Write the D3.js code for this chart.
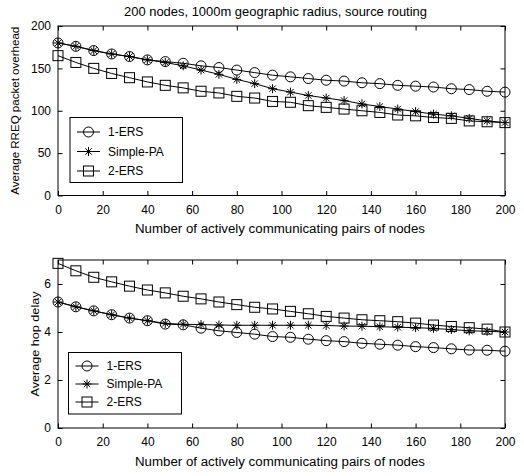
<!DOCTYPE html>
<html>
<head>
<meta charset="utf-8">
<script src="https://cdn.jsdelivr.net/npm/d3@7"></script>
<style>
  body { margin: 0; background: #fff; }
  text { font-family: "Liberation Sans", Arial, sans-serif; fill: #000; }
</style>
</head>
<body>
<svg id="chart" width="524" height="476"></svg>
<script>
// data
const pairs = d3.range(0, 201, 8); // 0, 8, ..., 200
const seriesNames = ["1-ERS", "Simple-PA", "2-ERS"];

const rreqOneErs = [180, 176, 171, 167, 164, 160, 158, 156, 153, 151, 148, 145, 142,
  140, 138, 136, 135, 133, 132, 130, 129, 128, 126, 125, 123, 122];
const rreqSimplePa = [180, 176, 171, 167, 164, 160, 157, 153, 148, 143, 137, 132, 126,
  122, 118, 115, 112, 108, 105, 102, 99, 96, 94, 91, 88, 86];
const rreqTwoErs = [165, 157, 150, 144, 139, 134, 130, 127, 123, 121, 117, 115, 111,
  110, 106, 104, 102, 100, 98, 95, 94, 92, 91, 88, 87, 86];

const hopOneErs = [5.25, 5.05, 4.88, 4.72, 4.58, 4.47, 4.33, 4.30, 4.16, 4.05, 3.98, 3.91, 3.81,
  3.78, 3.70, 3.64, 3.60, 3.53, 3.49, 3.45, 3.39, 3.35, 3.30, 3.25, 3.24, 3.20];
const hopSimplePa = [5.25, 5.05, 4.88, 4.72, 4.58, 4.47, 4.36, 4.32, 4.31, 4.29, 4.28, 4.28, 4.28,
  4.28, 4.28, 4.27, 4.25, 4.24, 4.22, 4.20, 4.18, 4.15, 4.10, 4.05, 4.03, 4.00];
const hopTwoErs = [6.86, 6.55, 6.28, 6.09, 5.91, 5.75, 5.63, 5.49, 5.38, 5.25, 5.14, 5.03, 4.96,
  4.86, 4.76, 4.65, 4.58, 4.51, 4.47, 4.43, 4.37, 4.29, 4.23, 4.18, 4.12, 4.00];

const xTicks = d3.range(0, 201, 20);
const rreqTicks = [0, 50, 100, 150, 200];
const hopTicks = [0, 2, 4, 6];

const svg = d3.select("#chart");
const tickLen = 4.5;

// draw one marker at (0,0) in group g
function drawMarker(g, name) {
  if (name === "1-ERS") {
    g.append("circle").attr("r", 5).attr("fill", "none").attr("stroke", "#000");
  } else if (name === "2-ERS") {
    g.append("rect").attr("x", -5).attr("y", -5).attr("width", 10).attr("height", 10)
      .attr("fill", "none").attr("stroke", "#000");
  } else {
    const s = 4.5, d = 3.2;
    g.append("path")
      .attr("d", `M${-s},0H${s}M0,${-s}V${s}M${-d},${-d}L${d},${d}M${-d},${d}L${d},${-d}`)
      .attr("stroke", "#000").attr("fill", "none");
  }
}

function drawPanel(opts) {
  const { left, right, top, bottom, yDomain, yTicks, series, yLabel, yLabelX, yLabelLen, legend } = opts;
  const x = d3.scaleLinear().domain([0, 200]).range([left, right]);
  const y = d3.scaleLinear().domain(yDomain).range([bottom, top]);
  const g = svg.append("g");

  // frame
  g.append("rect")
    .attr("x", left).attr("y", top)
    .attr("width", right - left).attr("height", bottom - top)
    .attr("fill", "none").attr("stroke", "#000").attr("stroke-width", 1);

  // axes with inward ticks on all four sides
  const ax = (axis, tr) => {
    const a = g.append("g").attr("transform", tr).call(axis);
    a.select(".domain").remove();
    a.selectAll("text").style("font-size", "12px").style("font-family", "Liberation Sans, Arial, sans-serif");
    return a;
  };
  ax(d3.axisBottom(x).tickValues(xTicks).tickSizeInner(-tickLen).tickSizeOuter(0).tickPadding(9.5),
    `translate(0,${bottom})`);
  ax(d3.axisTop(x).tickValues(xTicks).tickSizeInner(-tickLen).tickSizeOuter(0).tickFormat(""),
    `translate(0,${top})`);
  ax(d3.axisLeft(y).tickValues(yTicks).tickSizeInner(-tickLen).tickSizeOuter(0)
      .tickPadding(7).tickFormat(d3.format("d")),
    `translate(${left},0)`);
  ax(d3.axisRight(y).tickValues(yTicks).tickSizeInner(-tickLen).tickSizeOuter(0).tickFormat(""),
    `translate(${right},0)`);

  // x label
  g.append("text")
    .attr("x", 280).attr("y", bottom + 37.5)
    .attr("text-anchor", "middle").style("font-size", "12px")
    .attr("textLength", 290).attr("lengthAdjust", "spacingAndGlyphs")
    .text("Number of actively communicating pairs of nodes");

  // y label
  g.append("text")
    .attr("transform", `translate(${yLabelX},${(top + bottom) / 2}) rotate(-90)`)
    .attr("text-anchor", "middle").style("font-size", "11.5px")
    .attr("textLength", yLabelLen).attr("lengthAdjust", "spacingAndGlyphs")
    .text(yLabel);

  const line = d3.line().x((d, i) => x(pairs[i])).y(d => y(d));

  series.forEach((vals, k) => {
    g.append("path").datum(vals)
      .attr("d", line)
      .attr("fill", "none").attr("stroke", "#000").attr("stroke-width", 1);
    vals.forEach((v, i) => {
      const m = g.append("g").attr("transform", `translate(${x(pairs[i])},${y(v)})`);
      drawMarker(m, seriesNames[k]);
    });
  });

  // legend
  const lg = g.append("g");
  lg.append("rect")
    .attr("x", legend.x).attr("y", legend.y)
    .attr("width", legend.w).attr("height", legend.h)
    .attr("fill", "#fff").attr("stroke", "#000");
  seriesNames.forEach((name, k) => {
    const ry = legend.y + legend.first + k * legend.step;
    lg.append("line")
      .attr("x1", legend.x + 7).attr("x2", legend.x + 30)
      .attr("y1", ry).attr("y2", ry)
      .attr("stroke", "#000");
    drawMarker(lg.append("g").attr("transform", `translate(${legend.x + 18.5},${ry})`), name);
    lg.append("text")
      .attr("x", legend.x + 38).attr("y", ry).attr("dy", "0.35em")
      .style("font-size", "12px")
      .text(name);
  });
}

// title
svg.append("text")
  .attr("x", 275.5).attr("y", 16)
  .attr("text-anchor", "middle").style("font-size", "12px")
  .attr("textLength", 303).attr("lengthAdjust", "spacingAndGlyphs")
  .text("200 nodes, 1000m geographic radius, source routing");

drawPanel({
  left: 58, right: 505, top: 26, bottom: 195.5,
  yDomain: [0, 200], yTicks: rreqTicks,
  series: [rreqOneErs, rreqSimplePa, rreqTwoErs],
  yLabel: "Average RREQ packet overhead", yLabelX: 18.5, yLabelLen: 168,
  legend: { x: 70, y: 117.5, w: 112.5, h: 65, first: 14.5, step: 19.5 }
});

drawPanel({
  left: 58, right: 505, top: 260, bottom: 428,
  yDomain: [0, 7], yTicks: hopTicks,
  series: [hopOneErs, hopSimplePa, hopTwoErs],
  yLabel: "Average hop delay", yLabelX: 39, yLabelLen: 105,
  legend: { x: 68.5, y: 352.5, w: 113, h: 61.5, first: 13.5, step: 18 }
});
</script>
</body>
</html>
